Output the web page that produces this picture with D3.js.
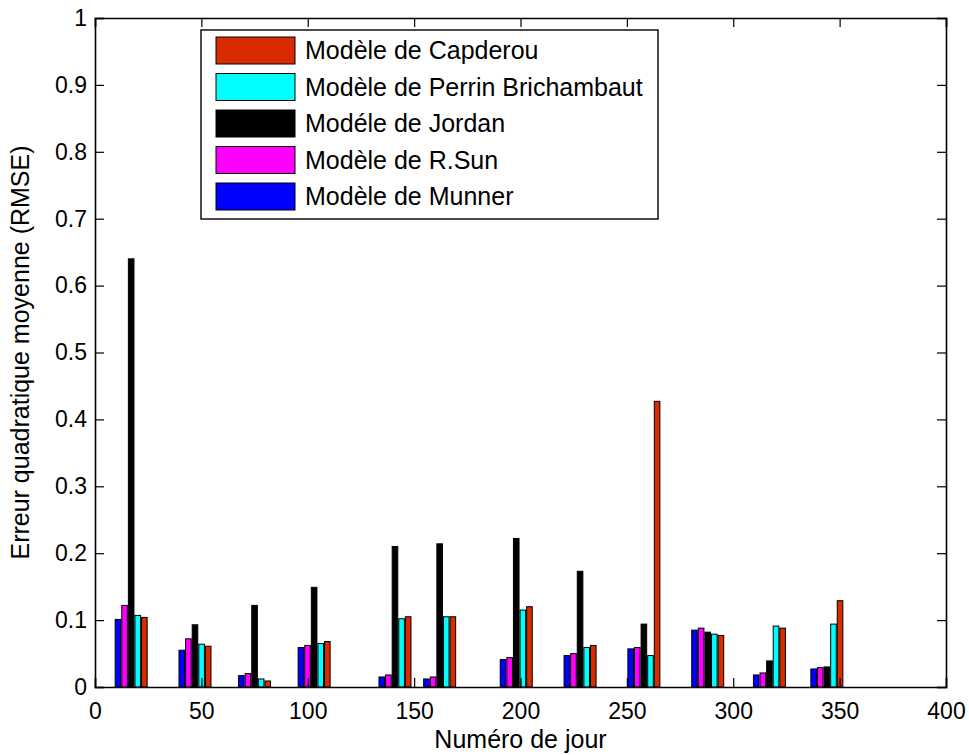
<!DOCTYPE html>
<html>
<head>
<meta charset="utf-8">
<script src="https://cdn.jsdelivr.net/npm/d3@7"></script>
<style>
  html, body { margin: 0; padding: 0; background: #fff; }
  svg { display: block; font-family: "Liberation Sans", Arial, sans-serif; }
</style>
</head>
<body>
<svg id="chart" width="969" height="755"></svg>
<script>
// ---------------- DATA ----------------
const days = [17, 47, 75, 103, 141, 162, 198, 228, 258, 288, 317, 344];
const seriesNames = ["Modèle de Munner", "Modèle de R.Sun", "Modéle de Jordan", "Modèle de Perrin Brichambaut", "Modèle de Capderou"];
const munner   = [0.101, 0.055, 0.017, 0.059, 0.015, 0.012, 0.041, 0.047, 0.057, 0.085, 0.018, 0.027];
const rsun     = [0.122, 0.072, 0.020, 0.062, 0.018, 0.015, 0.044, 0.050, 0.059, 0.088, 0.021, 0.029];
const jordan   = [0.640, 0.093, 0.122, 0.149, 0.210, 0.214, 0.222, 0.173, 0.094, 0.082, 0.039, 0.030];
const perrin   = [0.107, 0.064, 0.012, 0.065, 0.102, 0.105, 0.115, 0.059, 0.047, 0.079, 0.091, 0.094];
const capderou = [0.104, 0.061, 0.009, 0.068, 0.105, 0.105, 0.120, 0.062, 0.427, 0.077, 0.088, 0.129];
const xTicks = [0, 50, 100, 150, 200, 250, 300, 350, 400];
const yTicks = [0, 0.1, 0.2, 0.3, 0.4, 0.5, 0.6, 0.7, 0.8, 0.9, 1];
const xTitle = "Numéro de jour";
const yTitle = "Erreur quadratique moyenne (RMSE)";
const legendOrder = ["Modèle de Capderou", "Modèle de Perrin Brichambaut", "Modéle de Jordan", "Modèle de R.Sun", "Modèle de Munner"];

// ---------------- STYLE ----------------
const colors = {
  "Modèle de Munner": "#0000ff",
  "Modèle de R.Sun": "#ff00ff",
  "Modéle de Jordan": "#000000",
  "Modèle de Perrin Brichambaut": "#00ffff",
  "Modèle de Capderou": "#d92b00"
};
const allSeries = [munner, rsun, jordan, perrin, capderou];

const L = 95, R = 946, T = 18, B = 687;
const svg = d3.select("#chart");
const x = d3.scaleLinear().domain([0, 400]).range([L, R]);
const y = d3.scaleLinear().domain([0, 1]).range([B, T]);

const barStep = 6.6, barW = 5.6;

// bars
const barData = [];
allSeries.forEach((vals, si) => {
  vals.forEach((v, gi) => barData.push({ s: seriesNames[si], si, day: days[gi], v }));
});
svg.append("g").selectAll("rect").data(barData).join("rect")
  .attr("x", d => x(d.day) + (d.si - 2) * barStep - barW / 2)
  .attr("y", d => y(d.v))
  .attr("width", barW)
  .attr("height", d => y(0) - y(d.v))
  .attr("fill", d => colors[d.s])
  .attr("stroke", "#000")
  .attr("stroke-width", 1);

// axes (MATLAB style box with inward ticks)
const tickLen = 9;
const axB = d3.axisBottom(x).tickValues(xTicks).tickSize(-tickLen).tickPadding(16).tickFormat(d3.format("d"));
const axT = d3.axisTop(x).tickValues(xTicks).tickSize(-tickLen).tickFormat("");
const axL = d3.axisLeft(y).tickValues(yTicks).tickSize(-tickLen).tickPadding(8).tickFormat(d => d === 0 ? "0" : d === 1 ? "1" : d3.format(".1f")(d));
const axR = d3.axisRight(y).tickValues(yTicks).tickSize(-tickLen).tickFormat("");

function styleAxis(g) {
  g.select(".domain").attr("stroke", "#000").attr("stroke-width", 1.6);
  g.selectAll(".tick line").attr("stroke", "#000").attr("stroke-width", 1.2);
  g.selectAll(".tick text").attr("fill", "#000").style("font-size", "23px").style("font-family", "'Liberation Sans', Arial, sans-serif");
}
svg.append("g").attr("transform", `translate(0,${B})`).call(axB).call(styleAxis);
svg.append("g").attr("transform", `translate(0,${T})`).call(axT).call(styleAxis);
svg.append("g").attr("transform", `translate(${L},0)`).call(axL).call(styleAxis);
svg.append("g").attr("transform", `translate(${R},0)`).call(axR).call(styleAxis);

// titles
svg.append("text").attr("x", (L + R) / 2).attr("y", 748).attr("text-anchor", "middle")
  .style("font-size", "25px").text(xTitle);
svg.append("text").attr("transform", `translate(29,${(T + B) / 2}) rotate(-90)`).attr("text-anchor", "middle")
  .style("font-size", "25px").text(yTitle);

// legend
const lg = svg.append("g");
lg.append("rect").attr("x", 201).attr("y", 30).attr("width", 457).attr("height", 189)
  .attr("fill", "#fff").attr("stroke", "#000").attr("stroke-width", 1.4);
const rowY = d3.scalePoint().domain(legendOrder).range([37, 183]);
legendOrder.forEach(name => {
  lg.append("rect").attr("x", 216).attr("y", rowY(name)).attr("width", 79).attr("height", 27)
    .attr("fill", colors[name]).attr("stroke", "#000").attr("stroke-width", 1);
  lg.append("text").attr("x", 305).attr("y", rowY(name) + 22).style("font-size", "25px").text(name);
});
</script>
</body>
</html>
